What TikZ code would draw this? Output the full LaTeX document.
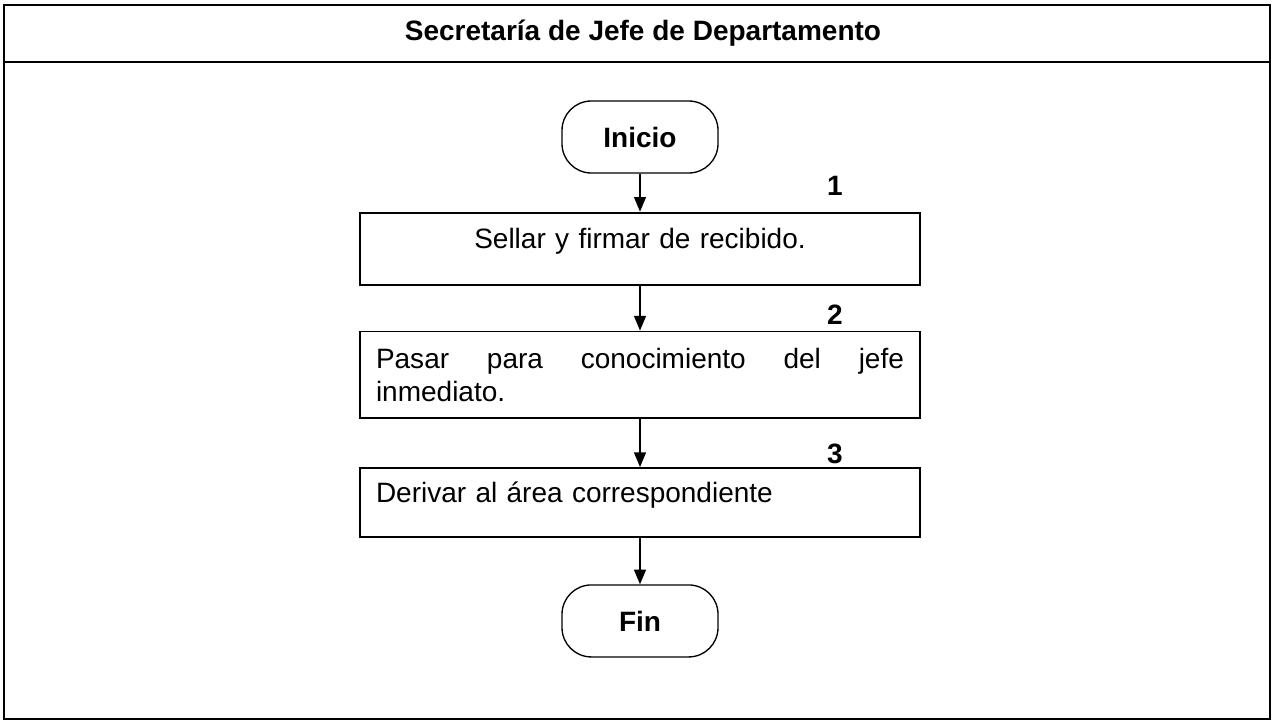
\documentclass[tikz,border=0pt]{standalone}
\usepackage{fontspec}
\setmainfont{Liberation Sans}
\usetikzlibrary{arrows.meta,positioning}

\begin{document}
\begin{tikzpicture}[
    x=0.75pt, y=-0.75pt,
    >={Triangle[length=11pt,width=9pt]},
    terminal/.style={draw,line width=1pt,rounded corners=22pt,minimum width=117pt,minimum height=54pt,font=\fontsize{21}{25}\selectfont\bfseries},
    process/.style={draw,line width=1.4pt,text width=396pt,inner xsep=12pt,inner ysep=0pt,font=\fontsize{21}{24.75}\selectfont},
    numlabel/.style={font=\fontsize{21}{25}\selectfont\bfseries}
]
\useasboundingbox (0,0) rectangle (1273,721);
\draw[line width=1.8pt] (4,5) rectangle (1270,719);
\draw[line width=1.8pt] (4,62) -- (1270,62);
\node[font=\fontsize{21}{25}\selectfont\bfseries] (title) at (643,33) {Secretaría de Jefe de Departamento};

\node[terminal] (ini) at (640,137) {Inicio};
\node[process, align=center, text height=27pt, text depth=27pt, below=28.5pt of ini] (b1) {Sellar y firmar de recibido.};
\node[process, align=justify, minimum height=65pt, below=33.75pt of b1] (b2) {Pasar para conocimiento del jefe\linebreak inmediato.};
\node[process, align=left, text height=26pt, text depth=26pt, below=36pt of b2] (b3) {Derivar al área correspondiente};
\node[terminal, below=34.5pt of b3] (fin) {Fin};

\node[numlabel] (n1) at ([shift={(-86,-26)}]b1.north east) {1};
\node[numlabel] (n2) at ([shift={(-86,-16)}]b2.north east) {2};
\node[numlabel] (n3) at ([shift={(-86,-13)}]b3.north east) {3};

\draw[->,line width=1pt] (ini) -- (b1);
\draw[->,line width=1pt] (b1) -- (b2);
\draw[->,line width=1pt] (b2) -- (b3);
\draw[->,line width=1pt] (b3) -- (fin);
\end{tikzpicture}
\end{document}
